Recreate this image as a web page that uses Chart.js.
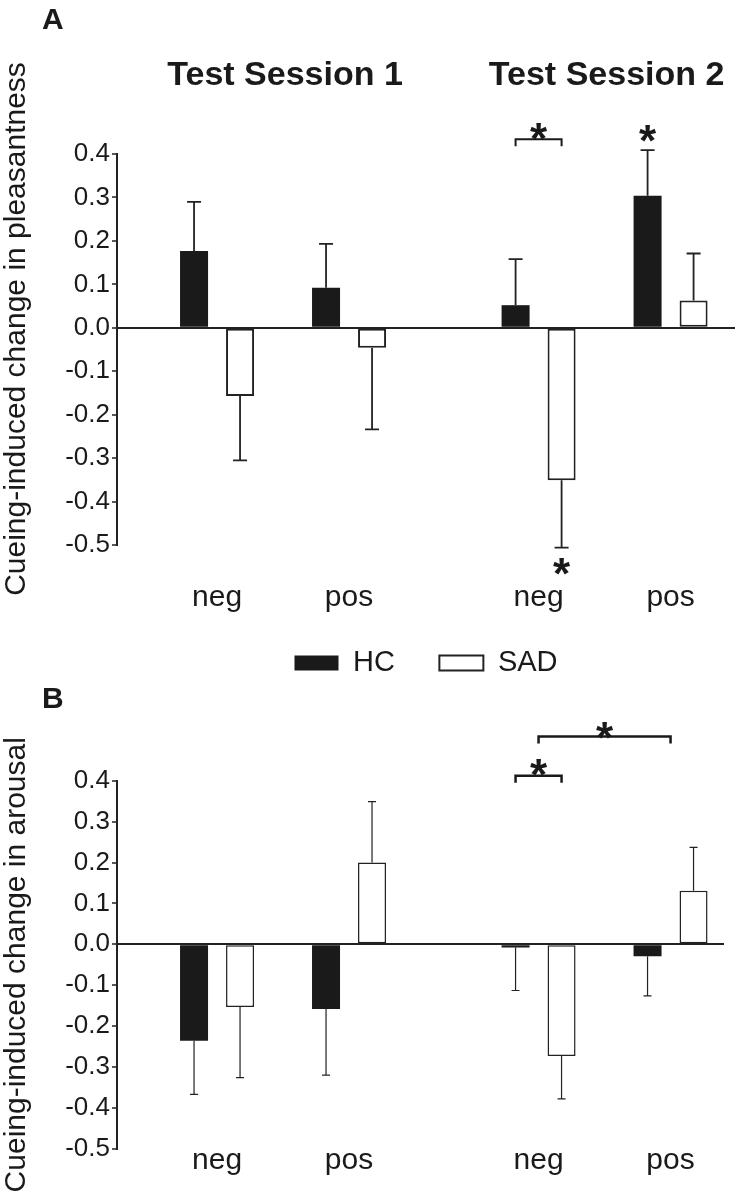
<!DOCTYPE html>
<html>
<head>
<meta charset="utf-8">
<script src="https://cdn.jsdelivr.net/npm/chart.js@4.4.1/dist/chart.umd.min.js"></script>
<style>
  html, body { margin: 0; padding: 0; background: #fff; }
  #wrap { position: relative; width: 738px; height: 1200px; background: #fff; }
  canvas { position: absolute; left: 0; }
</style>
</head>
<body>
<div id="wrap">
  <canvas id="chartA" width="738" height="690" style="top:0;width:738px;height:690px"></canvas>
  <canvas id="chartB" width="738" height="520" style="top:680px;width:738px;height:520px"></canvas>
</div>
<script>
// ---------------- data ----------------
const conditions = ['neg', 'pos', 'neg', 'pos'];
const sessions = ['Test Session 1', 'Test Session 2'];
const sessionOfCondition = [0, 0, 1, 1];
const groups = ['HC', 'SAD'];

// Panel A: cueing-induced change in pleasantness
const pleasHC = [0.177, 0.092, 0.052, 0.304];
const pleasHCErr = [0.113, 0.101, 0.106, 0.105];
const pleasSAD = [-0.157, -0.046, -0.351, 0.063];
const pleasSADErr = [0.148, 0.188, 0.155, 0.108];

// Panel B: cueing-induced change in arousal
const arouHC = [-0.236, -0.158, -0.008, -0.029];
const arouHCErr = [0.131, 0.162, 0.105, 0.097];
const arouSAD = [-0.153, 0.200, -0.273, 0.131];
const arouSADErr = [0.173, 0.149, 0.105, 0.106];

// y-axis range / tick step
const yMin = -0.5, yMax = 0.4, yStep = 0.1;

// significance marks (value-axis levels in data units)
const pleasSig = [
  { from: [2, 0], to: [2, 1], level: 0.434, star: 0.457 },
  { over: [3, 0], star: 0.453 },
  { over: [2, 1], star: -0.544 }
];
const arouSig = [
  { from: [2, 0], to: [2, 1], level: 0.412, star: 0.438 },
  { from: [2], to: [3], level: 0.508, star: 0.529 }
];

// ---------------- layout helpers ----------------
const FONT = '"Liberation Sans", Arial, Helvetica, sans-serif';
Chart.defaults.font.family = FONT;
Chart.defaults.color = '#222';
const sessionGap = 0.436;
const catPos = conditions.map((c, i) => i + (sessionOfCondition[i] > 0 ? sessionGap : 0));

function toXY(values) {
  return values.map((v, i) => ({ x: catPos[i], y: v }));
}

const errorBars = {
  id: 'errorBars',
  afterDatasetsDraw(chart, args, o) {
    const ctx = chart.ctx, ys = chart.scales.y;
    chart.data.datasets.forEach((ds, di) => {
      const meta = chart.getDatasetMeta(di);
      meta.data.forEach((bar, i) => {
        const v = ds.data[i].y, e = ds.errors[i];
        const end = ys.getPixelForValue(v + (v >= 0 ? e : -e));
        ctx.save();
        ctx.strokeStyle = o.color;
        ctx.lineWidth = o.width;
        ctx.beginPath();
        ctx.moveTo(bar.x, bar.y);
        ctx.lineTo(bar.x, end);
        ctx.moveTo(bar.x - o.cap / 2, end);
        ctx.lineTo(bar.x + o.cap / 2, end);
        ctx.stroke();
        ctx.restore();
      });
    });
  }
};

function refX(chart, ref) {
  if (ref.length === 2) return chart.getDatasetMeta(ref[1]).data[ref[0]].x;
  return chart.scales.x.getPixelForValue(catPos[ref[0]]);
}

function drawStar(ctx, x, cy, size) {
  ctx.font = 'bold ' + size + 'px ' + FONT;
  ctx.textAlign = 'center';
  ctx.textBaseline = 'alphabetic';
  ctx.fillText('*', x, cy + 0.56 * size);
}

const decor = {
  id: 'decor',
  afterDraw(chart, args, o) {
    const ctx = chart.ctx, xs = chart.scales.x, ys = chart.scales.y;
    ctx.save();
    ctx.fillStyle = '#1a1a1a';
    ctx.strokeStyle = '#1a1a1a';
    // panel letter
    ctx.font = 'bold 30px ' + FONT;
    ctx.textAlign = 'left';
    ctx.textBaseline = 'alphabetic';
    ctx.fillText(o.letter, o.letterX, o.letterY);
    // rotated value-axis title (when not drawn by the scale itself)
    if (o.yTitle) {
      ctx.save();
      ctx.font = '30px ' + FONT;
      ctx.textAlign = 'center';
      ctx.textBaseline = 'middle';
      ctx.translate(o.yTitle.x, o.yTitle.y);
      ctx.rotate(-Math.PI / 2);
      ctx.fillText(o.yTitle.text, 0, 0);
      ctx.restore();
    }
    // session titles
    if (o.sessionTitles) {
      ctx.font = 'bold 34px ' + FONT;
      ctx.textAlign = 'center';
      sessions.forEach((s, si) => {
        const idx = sessionOfCondition.map((v, i) => v === si ? i : -1).filter(i => i >= 0);
        const mid = (catPos[idx[0]] + catPos[idx[idx.length - 1]]) / 2;
        ctx.fillText(s, xs.getPixelForValue(mid) + o.sessionTitleDx, o.sessionTitleY);
      });
    }
    // significance
    (o.sig || []).forEach(m => {
      if (m.from) {
        const x1 = refX(chart, m.from), x2 = refX(chart, m.to);
        const yl = ys.getPixelForValue(m.level);
        ctx.lineWidth = o.bracketWidth;
        ctx.beginPath();
        ctx.moveTo(x1, yl + o.leg);
        ctx.lineTo(x1, yl);
        ctx.lineTo(x2, yl);
        ctx.lineTo(x2, yl + o.leg);
        ctx.stroke();
        drawStar(ctx, (x1 + x2) / 2, ys.getPixelForValue(m.star), o.starSize);
      } else {
        drawStar(ctx, refX(chart, m.over), ys.getPixelForValue(m.star), o.starSize);
      }
    });
    ctx.restore();
  }
};

function yTickLabel(v) {
  return (Math.round(v * 10) / 10 + 0).toFixed(1);
}

function makeChart(id, cfg) {
  return new Chart(document.getElementById(id), {
    type: 'bar',
    data: {
      datasets: [
        {
          label: groups[0], data: toXY(cfg.hc), errors: cfg.hcErr,
          backgroundColor: '#1a1a1a', borderColor: '#1a1a1a', borderWidth: 0,
          categoryPercentage: 0.697, barPercentage: 0.609
        },
        {
          label: groups[1], data: toXY(cfg.sad), errors: cfg.sadErr,
          backgroundColor: '#ffffff', borderColor: '#222', borderWidth: cfg.sadBorder,
          borderSkipped: false,
          categoryPercentage: 0.697, barPercentage: 0.609
        }
      ]
    },
    options: {
      responsive: false,
      animation: false,
      devicePixelRatio: 1,
      layout: { padding: cfg.padding },
      scales: {
        x: {
          type: 'linear',
          offset: false,
          min: cfg.xMin, max: cfg.xMax,
          afterBuildTicks: s => { s.ticks = catPos.map(v => ({ value: v })); },
          afterFit: s => { s.height = cfg.xAxisHeight; },
          ticks: {
            autoSkip: false, maxRotation: 0, mirror: cfg.xMirror,
            callback: (v, i) => conditions[i],
            font: { size: 30 }, color: '#1a1a1a', padding: cfg.xTickPad
          },
          grid: { display: false, drawTicks: false },
          border: { display: false }
        },
        y: {
          min: yMin, max: yMax,
          afterFit: s => { s.width = 117; },
          ticks: {
            stepSize: yStep, callback: v => yTickLabel(v),
            font: { size: 26 }, color: '#1a1a1a', padding: 2
          },
          grid: {
            drawOnChartArea: true,
            color: c => (c.tick && Math.abs(c.tick.value) < 1e-9) ? '#222' : 'rgba(0,0,0,0)',
            lineWidth: cfg.zeroWidth,
            tickLength: 5, tickColor: '#222', tickWidth: 1.5
          },
          border: { display: true, color: '#222', width: 2 },
          title: {
            display: cfg.scaleTitle, text: cfg.yTitle, color: '#1a1a1a',
            font: { size: 30, lineHeight: 1.1 }, padding: 0
          }
        }
      },
      plugins: {
        legend: cfg.legend,
        tooltip: { enabled: false },
        errorBars: { color: '#222', width: cfg.errWidth, cap: cfg.cap },
        decor: cfg.decor
      }
    },
    plugins: [errorBars, decor]
  });
}

const titleA = 'Cueing-induced change in pleasantness';
const titleB = 'Cueing-induced change in arousal';

makeChart('chartA', {
  hc: pleasHC, hcErr: pleasHCErr, sad: pleasSAD, sadErr: pleasSADErr,
  yTitle: titleA, scaleTitle: false,
  padding: { top: 154, right: 3, bottom: 2.5, left: 0 },
  xMin: -0.758, xMax: 3.924, xAxisHeight: 59, xMirror: true, xTickPad: -71,
  sadBorder: 2, zeroWidth: 2, errWidth: 1.8, cap: 14,
  legend: {
    display: true, position: 'bottom', fullSize: false,
    labels: { boxWidth: 44, boxHeight: 15, padding: 44.5, color: '#1a1a1a', font: { size: 29 } }
  },
  decor: {
    letter: 'A', letterX: 42, letterY: 29,
    yTitle: { text: titleA, x: 16.5, y: 329 },
    sessionTitles: true, sessionTitleY: 85, sessionTitleDx: 2,
    sig: pleasSig, bracketWidth: 2, leg: 7, starSize: 44
  }
});

makeChart('chartB', {
  hc: arouHC, hcErr: arouHCErr, sad: arouSAD, sadErr: arouSADErr,
  yTitle: titleB, scaleTitle: true,
  padding: { top: 100.7, right: 14, bottom: 21.2, left: 0 },
  xMin: -0.758, xMax: 3.841, xAxisHeight: 30, xMirror: false, xTickPad: -6,
  sadBorder: 1.5, zeroWidth: 2, errWidth: 1.2, cap: 8,
  legend: { display: false },
  decor: {
    letter: 'B', letterX: 42, letterY: 28,
    sessionTitles: false,
    sig: arouSig, bracketWidth: 2.5, leg: 7, starSize: 44
  }
});
</script>
</body>
</html>
